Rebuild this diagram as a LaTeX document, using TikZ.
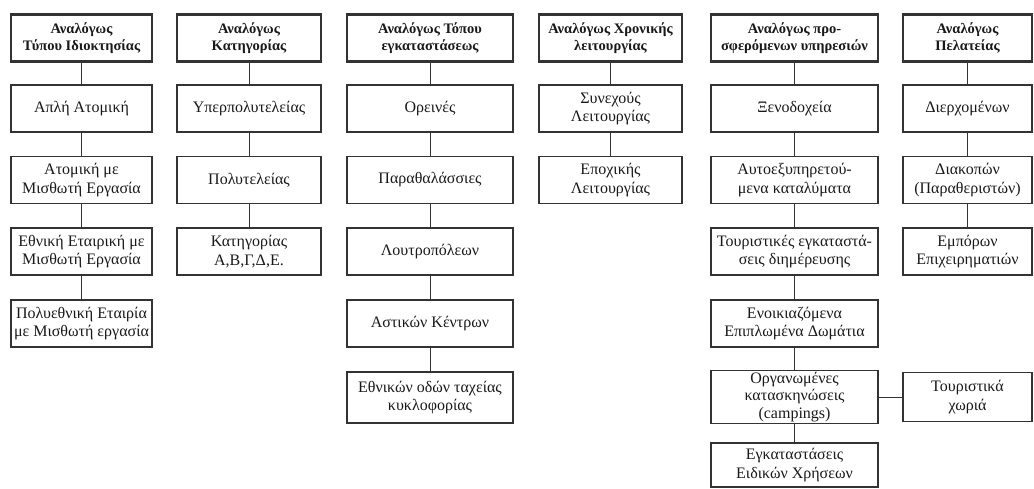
\documentclass[tikz,border=0pt]{standalone}
\usepackage{fontspec}
\setmainfont{Liberation Serif}

\begin{document}
\begin{tikzpicture}[x=1pt, y=-1pt,
    box/.style={draw=black!80, line width=1.1pt, align=center, inner sep=1pt,
        minimum width=#1, minimum height=47pt, text=black!90,
        font=\fontsize{16}{18.5}\selectfont},
    head/.style={box=#1, line width=2.4pt, font=\fontsize{14.5}{17.5}\selectfont\bfseries},
    link/.style={draw=black!80, line width=0.9pt}]
    \useasboundingbox (0,0) rectangle (1034,488);

    % Στήλη 1
    \node[head=141pt] (A0) at (81.5,38) {Αναλόγως\\Τύπου Ιδιοκτησίας};
    \node[box=141pt] (A1) at (81.5,108.5) {Απλή Ατομική};
    \node[box=141pt] (A2) at (81.5,180) {Ατομική με\\Μισθωτή Εργασία};
    \node[box=141pt] (A3) at (81.5,251.5) {Εθνική Εταιρική με\\Μισθωτή Εργασία};
    \node[box=141pt] (A4) at (81.5,323.5) {Πολυεθνική Εταιρία\\με Μισθωτή εργασία};

    % Στήλη 2
    \node[head=144pt] (B0) at (249,38) {Αναλόγως\\Κατηγορίας};
    \node[box=144pt] (B1) at (249,108.5) {Υπερπολυτελείας};
    \node[box=144pt] (B2) at (249,180) {Πολυτελείας};
    \node[box=144pt] (B3) at (249,251.5) {Κατηγορίας\\Α,Β,Γ,Δ,Ε.};

    % Στήλη 3
    \node[head=166pt] (C0) at (430,38) {Αναλόγως Τόπου\\εγκαταστάσεως};
    \node[box=166pt] (C1) at (430,108.5) {Ορεινές};
    \node[box=166pt] (C2) at (430,180) {Παραθαλάσσιες};
    \node[box=166pt] (C3) at (430,251.5) {Λουτροπόλεων};
    \node[box=166pt] (C4) at (430,323.5) {Αστικών Κέντρων};
    \node[box=166pt, minimum height=51pt] (C5) at (430,397.5) {Εθνικών οδών ταχείας\\κυκλοφορίας};

    % Στήλη 4
    \node[head=143pt] (D0) at (610.5,38) {Αναλόγως Χρονικής\\λειτουργίας};
    \node[box=143pt] (D1) at (610.5,108.5) {Συνεχούς\\Λειτουργίας};
    \node[box=143pt] (D2) at (610.5,180) {Εποχικής\\Λειτουργίας};

    % Στήλη 5
    \node[head=167pt] (E0) at (794.5,38) {Αναλόγως προ-\\σφερόμενων υπηρεσιών};
    \node[box=167pt] (E1) at (794.5,108.5) {Ξενοδοχεία};
    \node[box=167pt] (E2) at (794.5,180) {Αυτοεξυπηρετού-\\μενα καταλύματα};
    \node[box=167pt] (E3) at (794.5,251.5) {Τουριστικές εγκαταστά-\\σεις διημέρευσης};
    \node[box=167pt] (E4) at (794.5,323.5) {Ενοικιαζόμενα\\Επιπλωμένα Δωμάτια};
    \node[box=167pt, minimum height=53pt, inner ysep=0pt,
        font=\fontsize{16}{17.5}\selectfont] (E5) at (794.5,397) {Οργανωμένες\\κατασκηνώσεις\\(campings)};
    \node[box=167pt, minimum height=44pt] (E6) at (794.5,465) {Εγκαταστάσεις\\Ειδικών Χρήσεων};

    % Στήλη 6
    \node[head=129pt] (F0) at (967.5,38) {Αναλόγως\\Πελατείας};
    \node[box=129pt] (F1) at (967.5,108.5) {Διερχομένων};
    \node[box=129pt] (F2) at (967.5,180) {Διακοπών\\(Παραθεριστών)};
    \node[box=129pt] (F3) at (967.5,251.5) {Εμπόρων\\Επιχειρηματιών};
    \node[box=129pt, minimum height=49pt] (T) at (967.5,397) {Τουριστικά\\χωριά};

    % Γραμμές
    \foreach \a/\b in {A0/A1, A1/A2, A2/A3, A3/A4, B0/B1, B1/B2, B2/B3,
        C0/C1, C1/C2, C2/C3, C3/C4, C4/C5, D0/D1, D1/D2,
        E0/E1, E1/E2, E2/E3, E3/E4, E4/E5, E5/E6, F0/F1, F1/F2, F2/F3, E5/T}
        \draw[link] (\a) -- (\b);
\end{tikzpicture}
\end{document}
